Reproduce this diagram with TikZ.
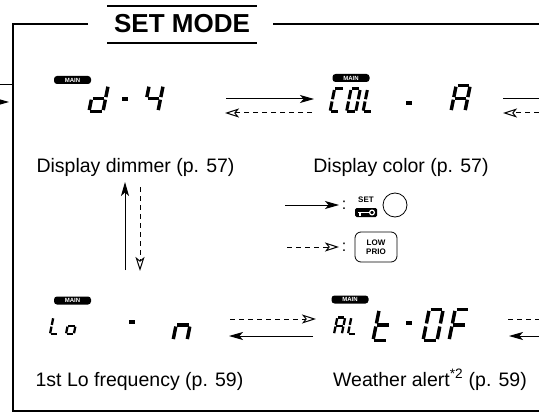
\documentclass[tikz,border=0pt]{standalone}
\usepackage{fontspec}
\setmainfont{Liberation Sans}
\usetikzlibrary{arrows.meta,positioning}

% seven-segment parts, cell 14 wide, 26 high, origin bottom-left
\def\lcdsega{(1.3,26)--(12.7,26)}
\def\lcdsegb{(14,24.7)--(14,14.3)}
\def\lcdsegc{(14,11.7)--(14,1.3)}
\def\lcdsegd{(1.3,0)--(12.7,0)}
\def\lcdsege{(0,11.7)--(0,1.3)}
\def\lcdsegf{(0,24.7)--(0,14.3)}
\def\lcdsegg{(1.3,13)--(12.7,13)}
\def\lcdsegh{(0,0)--(6,0)}
\newcommand{\lcdchar}[4][]{%
  \begin{scope}[shift={(#2,#3)},y=1pt,xslant=0.2,#1]
    \foreach \sg in {#4}{\draw[lcdseg] \csname lcdseg\sg\endcsname;}
  \end{scope}}

\begin{document}
\begin{tikzpicture}[x=1pt,y=-1pt,
  frame/.style={line width=1.8pt},
  lcdseg/.style={line width=3.4pt,line cap=butt},
  lcdmid/.style={xscale=0.66,yscale=0.88,lcdseg/.append style={line width=3pt}},
  lcdsmall/.style={xscale=0.56,yscale=0.64,lcdseg/.append style={line width=2.3pt}},
  lcdbig/.style={yscale=1.2},
  badge/.style={fill=black,text=white,rounded corners=3pt,minimum width=37pt,
                minimum height=8pt,inner sep=0pt,font=\bfseries\fontsize{6}{6}\selectfont},
  lbl/.style={anchor=base,font=\fontsize{19.5}{22}\selectfont},
  setarrow/.style={line width=1pt,-{Stealth[length=14pt,width=8pt,inset=3.5pt]}},
  prioarrow/.style={line width=1pt,dash pattern=on 5pt off 4pt,
                    -{Stealth[open,length=14pt,width=9pt,inset=3.5pt]}}]
\useasboundingbox (0,0) rectangle (539,412);

% frame and heading
\draw[frame] (88,24) -- (13,24) -- (13,411) -- (539,411);
\draw[frame] (273,24) -- (539,24);
\draw[line width=1.4pt] (107,6) -- (257,6) (107,43) -- (257,43);
\node[anchor=base,font=\bfseries\fontsize{26}{26}\selectfont] (title) at (182,33) {SET MODE};

% displays
\node[badge] (mainDim) at (72.5,80) {MAIN};
\lcdchar{89}{111.4}{b,c,d,e,g}
\lcdchar{122}{99}{h}
\lcdchar{144}{111.4}{f,g,b,c}

\node[badge] (mainCol) at (351,78) {MAIN};
\lcdchar[lcdmid]{330}{111.8}{a,f,e,d}
\lcdchar[lcdmid]{346.5}{111.8}{a,b,c,d,e,f}
\lcdchar[lcdmid]{363}{111.8}{f,e,d}
\lcdchar{406}{103}{h}
\lcdchar{451}{111.4}{a,b,c,e,f,g}

\node[badge] (mainLo) at (72.5,300.5) {MAIN};
\lcdchar[lcdsmall]{50}{334.1}{f,e,d}
\lcdchar[lcdsmall]{66}{334.1}{g,c,d,e}
\lcdchar{129}{322}{h}
\lcdchar[lcdbig]{173}{340.6}{g,c,e}

\node[badge] (mainAlt) at (350,299.5) {MAIN};
\lcdchar[lcdsmall]{334}{334}{a,b,c,e,f,g}
\lcdchar[lcdsmall]{348}{334}{f,e,d}
\lcdchar[lcdbig]{373}{340.6}{f,e,d,g}
\lcdchar{406}{323}{h}
\lcdchar[lcdbig]{423}{340.6}{a,b,c,d,e,f}
\lcdchar[lcdbig]{449}{340.6}{a,e,f,g}

% labels
\node[lbl] (lblDim) at (135.5,172) {Display dimmer (p. 57)};
\node[lbl] (lblCol) at (401,172) {Display color (p. 57)};
\node[lbl] (lblLo) at (139.5,386) {1st Lo frequency (p. 59)};
\node[lbl] (lblAlt) at (430,386) {Weather alert\textsuperscript{*2} (p. 59)};

% connector ends
\coordinate (dimOut) at (226,99);   \coordinate (colIn) at (314,99);
\coordinate (colBack) at (312,113); \coordinate (dimBack) at (225,113);
\coordinate (colOut) at (503,99);   \coordinate (edgeR1) at (539,99);
\coordinate (edgeR2) at (539,113);  \coordinate (colBackIn) at (503,113);
\coordinate (edgeL1) at (0,85);     \coordinate (frameL1) at (13,85);
\coordinate (edgeL2) at (-6,102);   \coordinate (frameL2) at (9,102);
\coordinate (loUp) at (125,270);    \coordinate (dimDown) at (125,182);
\coordinate (dimSkip) at (140,187); \coordinate (loSkip) at (140,271);
\coordinate (loFwd) at (230,319);   \coordinate (altFwd) at (316,319);
\coordinate (altOut) at (313,336);  \coordinate (loIn) at (229,336);
\coordinate (altFwdR) at (508,319); \coordinate (edgeR3) at (539,319);
\coordinate (edgeR4) at (539,336);  \coordinate (altIn) at (509,336);

\draw[setarrow] (dimOut) -- (colIn);
\draw[prioarrow] (colBack) -- (dimBack);
\draw[line width=1pt] (colOut) -- (edgeR1);
\draw[prioarrow] (edgeR2) -- (colBackIn);
\draw[line width=1pt] (edgeL1) -- (frameL1);
\draw[setarrow] (edgeL2) -- (frameL2);
\draw[setarrow] (loUp) -- (dimDown);
\draw[prioarrow] (dimSkip) -- (loSkip);
\draw[prioarrow] (loFwd) -- (altFwd);
\draw[setarrow] (altOut) -- (loIn);
\draw[line width=1pt,dash pattern=on 5pt off 4pt] (altFwdR) -- (edgeR3);
\draw[setarrow] (edgeR4) -- (altIn);

% legend
\coordinate (keyA) at (285,205); \coordinate (keyB) at (339,205);
\coordinate (prioA) at (287,247); \coordinate (prioB) at (339,247);
\draw[setarrow] (keyA) -- (keyB);
\draw[prioarrow] (prioA) -- (prioB);
\node[anchor=base,font=\fontsize{16}{16}\selectfont] (colonSet) at (344,209) {:};
\node[anchor=base,font=\fontsize{16}{16}\selectfont] (colonPrio) at (344,251) {:};
\node[font=\bfseries\fontsize{8}{8}\selectfont,inner sep=0pt] (setTxt) at (366,200) {SET};
\node[fill=black,rounded corners=1.5pt,minimum width=22pt,minimum height=9pt,inner sep=0pt]
  (keyIcon) at (366,212.5) {};
\draw[white,line width=1.3pt] (358,212.5) -- (369.5,212.5) (360,212.5) -- (360,215.5);
\draw[white,line width=1.2pt] (372,212.5) circle[radius=2.4pt];
\node[draw,circle,line width=0.8pt,minimum size=24pt,inner sep=0pt] (dial) at (395,205) {};
\node[draw,rounded corners=6pt,line width=0.8pt,minimum width=42pt,minimum height=30pt,
  inner sep=0pt,align=center,font=\bfseries\fontsize{8}{9.5}\selectfont] (prioKey) at (376,247) {LOW\\PRIO};
\end{tikzpicture}
\end{document}
